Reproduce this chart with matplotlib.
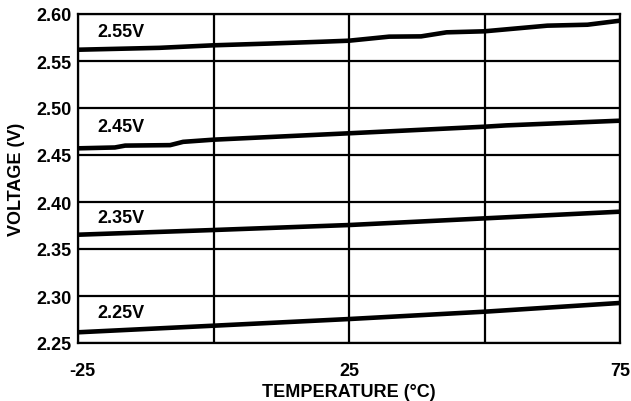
import matplotlib
matplotlib.use("Agg")
import matplotlib.pyplot as plt
import matplotlib.transforms as mtransforms

plt.rcParams['font.family'] = ['Liberation Sans', 'DejaVu Sans']
plt.rcParams['font.weight'] = 'bold'

# data
t_255 = [-25, -10, 0, 10, 20, 25, 32.4, 38.3, 43, 50, 61.6, 69, 75]
v_255 = [2.5620, 2.5640, 2.5667, 2.5685, 2.5705, 2.5716, 2.5759, 2.5762, 2.5805, 2.5816, 2.5876, 2.5886, 2.5929]

t_245 = [-25, -18.2, -16.3, -8.0, -5.6, 0, 25, 50, 54, 75]
v_245 = [2.4571, 2.4580, 2.4600, 2.4605, 2.4640, 2.4663, 2.4731, 2.4801, 2.4815, 2.4865]

t_235 = [-25, 0, 25, 50, 75]
v_235 = [2.3652, 2.3702, 2.3755, 2.3826, 2.3897]

t_225 = [-25, 0, 25, 50, 75]
v_225 = [2.2614, 2.2684, 2.2755, 2.2833, 2.2926]

series_labels = ["2.55V", "2.45V", "2.35V", "2.25V"]
label_y = [2.5819, 2.4798, 2.3830, 2.2820]

x_ticks = [-25, 0, 25, 50, 75]
x_ticklabels = ["-25", "", "25", "", "75"]
y_ticks = [2.25, 2.30, 2.35, 2.40, 2.45, 2.50, 2.55, 2.60]
y_ticklabels = ["2.25", "2.30", "2.35", "2.40", "2.45", "2.50", "2.55", "2.60"]

FS = 13

fig = plt.figure(figsize=(6.31, 4.02), dpi=100)
ax = fig.add_axes([78/631, 1 - 344/402, (620-78)/631, (344-15)/402])

ax.set_xlim(-25, 75)
ax.set_ylim(2.25, 2.60)
ax.set_xticks(x_ticks)
ax.set_xticklabels(x_ticklabels)
ax.set_yticks(y_ticks)
ax.set_yticklabels(y_ticklabels)
ax.grid(True, color='black', linewidth=1.6)
ax.set_axisbelow(True)
for s in ax.spines.values():
    s.set_linewidth(1.6)
ax.tick_params(axis='both', length=0, labelsize=FS)
ax.tick_params(axis='x', pad=13.5)
ax.tick_params(axis='y', pad=4.5)

# nudge the first x tick label slightly right, as in the reference
first = ax.get_xticklabels()[0]
first.set_transform(first.get_transform() + mtransforms.ScaledTranslation(4/100, 0, fig.dpi_scale_trans))

for t, v in [(t_255, v_255), (t_245, v_245), (t_235, v_235), (t_225, v_225)]:
    ax.plot(t, v, color='black', linewidth=3.3, solid_capstyle='butt', zorder=3)

for lab, yv in zip(series_labels, label_y):
    ax.text(-21.5, yv, lab, ha='left', va='center', fontsize=FS, fontweight='bold')

ax.set_xlabel("TEMPERATURE (°C)", fontsize=FS, fontweight='bold', labelpad=3)
ax.set_ylabel("VOLTAGE (V)", fontsize=FS, fontweight='bold', labelpad=8)

fig.savefig("out.png", dpi=100)
